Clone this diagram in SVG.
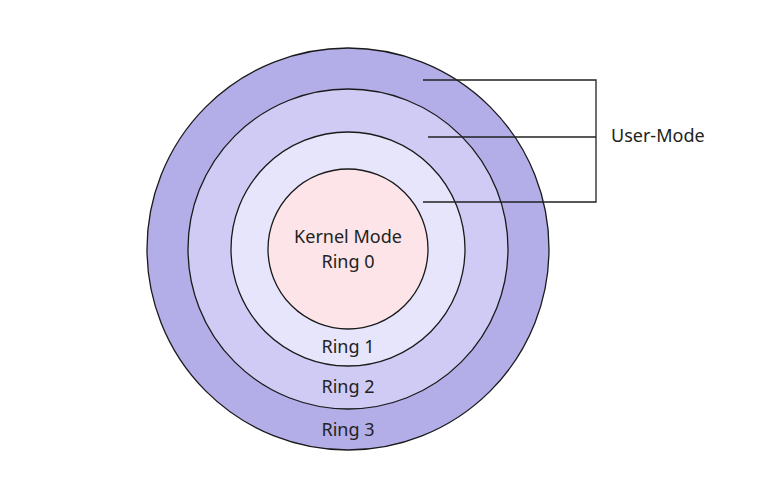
<svg xmlns="http://www.w3.org/2000/svg" width="784" height="493" viewBox="0 0 784 493">
<style>
.ring{stroke:#1a1a1a;stroke-width:1.3}
.t{font-family:"Noto Sans","Liberation Sans",sans-serif;font-size:18px;fill:#222;text-anchor:middle}
.line{stroke:#222;stroke-width:1.3;fill:none}
</style>
<rect width="784" height="493" fill="#fff"/>
<g id="ring3"><circle class="ring" cx="348" cy="249" r="201" fill="#b3aee8"/><text class="t" x="348" y="436">Ring 3</text></g>
<g id="ring2"><circle class="ring" cx="348" cy="249" r="160" fill="#d0cbf4"/><text class="t" x="348" y="393">Ring 2</text></g>
<g id="ring1"><circle class="ring" cx="348" cy="249" r="117" fill="#e7e5fc"/><text class="t" x="348" y="353">Ring 1</text></g>
<g id="ring0"><circle class="ring" cx="348" cy="249" r="80" fill="#fde4e9"/><text class="t" x="348" y="243">Kernel Mode</text><text class="t" x="348" y="268">Ring 0</text></g>
<g id="connectors">
<path class="line" d="M423 80H596V202H423M428 137H596"/>
</g>
<g id="user-mode"><text class="t" x="611" y="142" style="text-anchor:start">User-Mode</text></g>
</svg>
